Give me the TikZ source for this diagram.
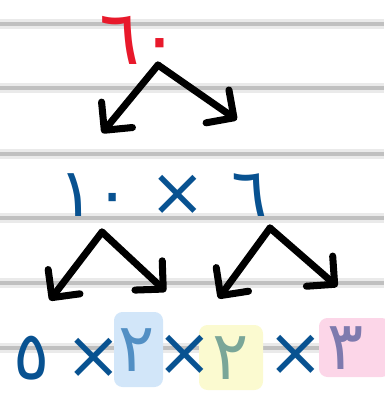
\documentclass[tikz,border=0pt]{standalone}
\usepackage{fontspec}
\usepackage{tikz}
\usetikzlibrary{arrows.meta, positioning, calc}
\newfontfamily\arabicfont[Script=Arabic]{DejaVu Sans}
\definecolor{myred}{RGB}{232,25,43}
\definecolor{myblue}{RGB}{8,82,145}
\definecolor{rulegray}{RGB}{192,192,192}
\definecolor{rulehalo}{RGB}{234,234,234}
\definecolor{hlblue}{RGB}{210,230,249}
\definecolor{hlyellow}{RGB}{251,250,208}
\definecolor{hlpink}{RGB}{252,214,232}
\definecolor{onblue}{RGB}{82,143,196}
\definecolor{onyellow}{RGB}{122,166,152}
\definecolor{onpink}{RGB}{126,122,174}
\tikzset{
  rednum/.style={inner sep=0pt, text=myred, font=\arabicfont\fontsize{54}{54}\selectfont},
  bluenum/.style={inner sep=0pt, text=myblue, font=\arabicfont\fontsize{48}{48}\selectfont},
  branch/.style={-{Straight Barb[length=0.5cm, width=1.0cm, line cap=round, line join=round]}, line width=5pt, line cap=round, line join=round, black},
  ruling/.style={line width=7pt, color=rulehalo},
  rulingcore/.style={line width=2.2pt, color=rulegray},
  hilite/.style={rounded corners=6pt}
}
\begin{document}
\begin{tikzpicture}[x=0.025cm, y=-0.025cm]
  \useasboundingbox (0,0) rectangle (384,395);
  % lined paper
  \foreach \yy in {24,88,154,218,283,348} {
    \draw[ruling] (0,\yy) -- (384,\yy);
    \draw[rulingcore] (0,\yy) -- (384,\yy);
  }

  % highlighter marks
  \fill[hilite, hlblue] (114,312) rectangle (163,387);
  \fill[hilite, hlyellow] (199,325) rectangle (263,390);
  \fill[hilite, hlpink] (319,318) rectangle (390,377);

  % numbers
  \node[rednum] (sixty) at (140,40) {٦٠};
  \node[bluenum] (ten) at (95,195) {١٠};
  \node[bluenum] (times1) at (178,195) {×};
  \node[bluenum] (six) at (250,195) {٦};

  \node[bluenum] (five) at (32,358) {٥};
  \node[bluenum] (times2) at (94,358) {×};
  \node[bluenum, text=onblue] (two1) at (137,350) {٢};
  \node[bluenum] (times3) at (185,355) {×};
  \node[bluenum, text=onyellow] (two2) at (231,358) {٢};
  \node[bluenum] (times4) at (296,355) {×};
  \node[bluenum, text=onpink] (three) at (346,348) {٣};

  % branches
  \coordinate (fork0) at (158,65);
  \coordinate (fork1) at (102,232);
  \coordinate (fork2) at (270,228);
  \draw[branch] (fork0) -- ($(fork0)!2.2cm!-13.6:(ten.center)$);
  \draw[branch] (fork0) -- ($(fork0)!2.4cm!19.9:(six.center)$);
  \draw[branch] (fork1) -- ($(fork1)!2.15cm!-8.3:(five.center)$);
  \draw[branch] (fork1) -- ($(fork1)!2.18cm!30.5:(two1.center)$);
  \draw[branch] (fork2) -- ($(fork2)!2.18cm!-19.5:(two2.center)$);
  \draw[branch] (fork2) -- ($(fork2)!2.23cm!16.6:(three.center)$);
\end{tikzpicture}
\end{document}
